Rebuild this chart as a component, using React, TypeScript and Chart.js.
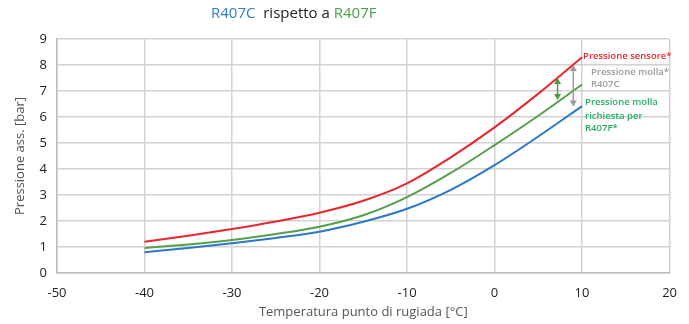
import React, { useEffect, useRef } from "react";
import { Chart, registerables } from "chart.js";

Chart.register(...registerables);

const temperatures = [-40, -35, -30, -25, -20, -15, -10, -5, 0, 5, 10];
const sensorPressure = [1.2, 1.43, 1.69, 1.98, 2.32, 2.78, 3.45, 4.45, 5.6, 6.9, 8.3];
const springR407F = [0.96, 1.1, 1.27, 1.5, 1.78, 2.22, 2.92, 3.85, 4.92, 6.05, 7.25];
const springR407C = [0.8, 0.96, 1.14, 1.35, 1.59, 1.97, 2.47, 3.2, 4.15, 5.25, 6.42];

const FONT = '"Open Sans", "Noto Sans", sans-serif';

const overlayPlugin = {
  id: "overlay",
  afterDraw(chart: any) {
    const ctx = chart.ctx as CanvasRenderingContext2D;
    const xs = chart.scales.x;
    const ys = chart.scales.y;
    ctx.save();
    // Title
    ctx.font = `15px ${FONT}`;
    ctx.textBaseline = "middle";
    ctx.textAlign = "left";
    let x = 211;
    const ty = 14;
    const parts: [string, string][] = [
      ["R407C", "#2f7fc3"],
      ["  rispetto a ", "#222222"],
      ["R407F", "#4ea24a"],
    ];
    for (const [t, c] of parts) {
      ctx.fillStyle = c;
      ctx.fillText(t, x, ty);
      x += ctx.measureText(t).width;
    }

    // Annotation texts
    const px = xs.getPixelForValue(10);
    ctx.font = `600 9.5px ${FONT}`;
    ctx.fillStyle = "#e8262b";
    ctx.fillText("Pressione sensore*", px + 1, ys.getPixelForValue(8.3) - 1);
    ctx.fillStyle = "#9a9a9a";
    ctx.fillText("Pressione molla*", px + 9, ys.getPixelForValue(7.72));
    ctx.fillText("R407C", px + 9, ys.getPixelForValue(7.27));
    ctx.fillStyle = "#22b060";
    ctx.fillText("Pressione molla", px + 3, ys.getPixelForValue(6.58));
    ctx.fillText("richiesta per", px + 3, ys.getPixelForValue(6.04));
    ctx.fillText("R407F*", px + 3, ys.getPixelForValue(5.55));

    // Arrows
    const drawArrow = (xv: number, v1: number, v2: number, color: string) => {
      const ax = xs.getPixelForValue(xv);
      const y1 = ys.getPixelForValue(v1);
      const y2 = ys.getPixelForValue(v2);
      ctx.strokeStyle = color;
      ctx.fillStyle = color;
      ctx.lineWidth = 1.5;
      ctx.beginPath();
      ctx.moveTo(ax, y1 + 4);
      ctx.lineTo(ax, y2 - 4);
      ctx.stroke();
      ctx.beginPath();
      ctx.moveTo(ax, y1);
      ctx.lineTo(ax - 3.5, y1 + 6);
      ctx.lineTo(ax + 3.5, y1 + 6);
      ctx.closePath();
      ctx.fill();
      ctx.beginPath();
      ctx.moveTo(ax, y2);
      ctx.lineTo(ax - 3.5, y2 - 6);
      ctx.lineTo(ax + 3.5, y2 - 6);
      ctx.closePath();
      ctx.fill();
    };
    drawArrow(7.2, 7.5, 6.65, "#4a9a3e");
    drawArrow(9.0, 8.0, 6.4, "#9a9a9a");
    ctx.restore();
  },
};

export default function App() {
  const canvasRef = useRef<HTMLCanvasElement | null>(null);

  useEffect(() => {
    if (!canvasRef.current) return;
    const mk = (data: number[], color: string) => ({
      data: temperatures.map((t, i) => ({ x: t, y: data[i] })),
      borderColor: color,
      backgroundColor: color,
      borderWidth: 2,
      pointRadius: 0,
      fill: false,
      cubicInterpolationMode: "monotone" as const,
    });
    const chart = new Chart(canvasRef.current, {
      type: "line",
      data: {
        datasets: [
          { label: "Pressione sensore*", ...mk(sensorPressure, "#e8262b") },
          { label: "Pressione molla richiesta per R407F*", ...mk(springR407F, "#55a04a") },
          { label: "Pressione molla* R407C", ...mk(springR407C, "#2b78c8") },
        ],
      },
      options: {
        animation: false,
        responsive: true,
        maintainAspectRatio: false,
        layout: { padding: { top: 39, right: 16, left: 0, bottom: 0 } },
        plugins: {
          legend: { display: false },
          tooltip: { enabled: false },
          title: { display: false },
        },
        scales: {
          x: {
            type: "linear",
            min: -50,
            max: 20,
            ticks: {
              stepSize: 10,
              color: "#222",
              font: { family: FONT, size: 13 },
              padding: 12,
              maxRotation: 0,
            },
            grid: { color: "#d2d2d2", lineWidth: 1.5, drawTicks: false },
            border: { color: "#bdbdbd", width: 1.5 },
            title: {
              display: true,
              text: "Temperatura punto di rugiada [°C]",
              color: "#555",
              font: { family: FONT, size: 13 },
              padding: { top: 0, bottom: 4 },
            },
            afterFit(scale: any) {
              scale.height = 51;
            },
          },
          y: {
            type: "linear",
            min: 0,
            max: 9,
            ticks: {
              stepSize: 1,
              color: "#222",
              font: { family: FONT, size: 13 },
              padding: 10,
            },
            grid: { color: "#d2d2d2", lineWidth: 1.5, drawTicks: false },
            border: { color: "#bdbdbd", width: 1.5 },
            title: {
              display: true,
              text: "Pressione ass. [bar]",
              color: "#555",
              font: { family: FONT, size: 13 },
              padding: { top: 12, bottom: 0 },
            },
            afterFit(scale: any) {
              scale.width = 57;
            },
          },
        },
      },
      plugins: [overlayPlugin],
    });
    return () => chart.destroy();
  }, []);

  return (
    <div style={{ position: "fixed", left: 0, top: 0, width: 689, height: 324, background: "#fff" }}>
      <canvas ref={canvasRef} />
    </div>
  );
}
